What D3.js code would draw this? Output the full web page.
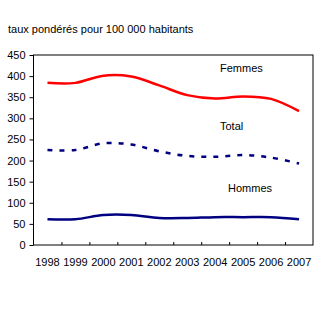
<!DOCTYPE html>
<html>
<head>
<meta charset="utf-8">
<script src="https://cdn.jsdelivr.net/npm/d3@7"></script>
<style>
  body { margin: 0; background: #fff; }
  text { font-family: "Liberation Sans", Arial, sans-serif; font-size: 11px; fill: #000; }
</style>
</head>
<body>
<div id="chart"></div>
<script>
const years = ["1998", "1999", "2000", "2001", "2002", "2003", "2004", "2005", "2006", "2007"];
const femmes = [384, 384, 401, 399, 378, 355, 347, 352, 346, 317];
const total = [225, 225, 241, 238, 222, 211, 209, 213, 207, 193];
const hommes = [61, 61, 71, 71, 64, 64, 66, 66, 66, 61];
const yTicks = [0, 50, 100, 150, 200, 250, 300, 350, 400, 450];

const width = 322, height = 309;
const margin = { left: 33.5, right: 9, top: 55, bottom: 64 };

const svg = d3.select("#chart").append("svg")
    .attr("width", width)
    .attr("height", height)

const x = d3.scaleBand()
    .domain(years)
    .range([margin.left, width - margin.right])

const y = d3.scaleLinear()
    .domain([0, 450])
    .range([height - margin.bottom, margin.top])

svg.append("text")
    .attr("x", 8)
    .attr("y", 33)
    .text("taux pondérés pour 100 000 habitants")

// y axis
const yAxis = svg.append("g")
    .attr("transform", `translate(${margin.left},0)`)
    .call(d3.axisLeft(y).tickValues(yTicks).tickSize(4).tickPadding(4))
yAxis.select(".domain").remove()
yAxis.selectAll("text").style("font-size", "11px").attr("font-family", null)

// x axis, ticks between categories pointing inward
const xAxisY = y(0);
svg.append("g")
    .selectAll("line")
    .data(years.slice(1))
    .join("line")
    .attr("x1", d => x(d) + 0.5)
    .attr("x2", d => x(d) + 0.5)
    .attr("y1", xAxisY)
    .attr("y2", xAxisY - 3)
    .attr("stroke", "black")

svg.append("g")
    .selectAll("text")
    .data(years)
    .join("text")
    .attr("x", d => x(d) + x.bandwidth() / 2)
    .attr("y", xAxisY + 21)
    .attr("text-anchor", "middle")
    .text(d => d)

// frame
svg.append("rect")
    .attr("x", margin.left)
    .attr("y", margin.top)
    .attr("width", width - margin.right - margin.left)
    .attr("height", xAxisY - margin.top)
    .attr("fill", "none")
    .attr("stroke", "black")

const line = d3.line()
    .x((d, i) => x(years[i]) + x.bandwidth() / 2)
    .y(d => y(d))
    .curve(d3.curveCatmullRom.alpha(0.5))

const series = [
    { name: "Femmes", values: femmes, color: "#ff0000", dash: null },
    { name: "Total", values: total, color: "#000080", dash: "5,7" },
    { name: "Hommes", values: hommes, color: "#000080", dash: null }
];

svg.selectAll("path.series")
    .data(series)
    .join("path")
    .classed("series", true)
    .attr("d", d => line(d.values))
    .attr("fill", "none")
    .attr("stroke", d => d.color)
    .attr("stroke-width", 2.5)
    .attr("stroke-dasharray", d => d.dash)

// labels
svg.append("text").attr("x", 220).attr("y", 72).text("Femmes")
svg.append("text").attr("x", 220).attr("y", 130).text("Total")
svg.append("text").attr("x", 228).attr("y", 192).text("Hommes")
</script>
</body>
</html>
